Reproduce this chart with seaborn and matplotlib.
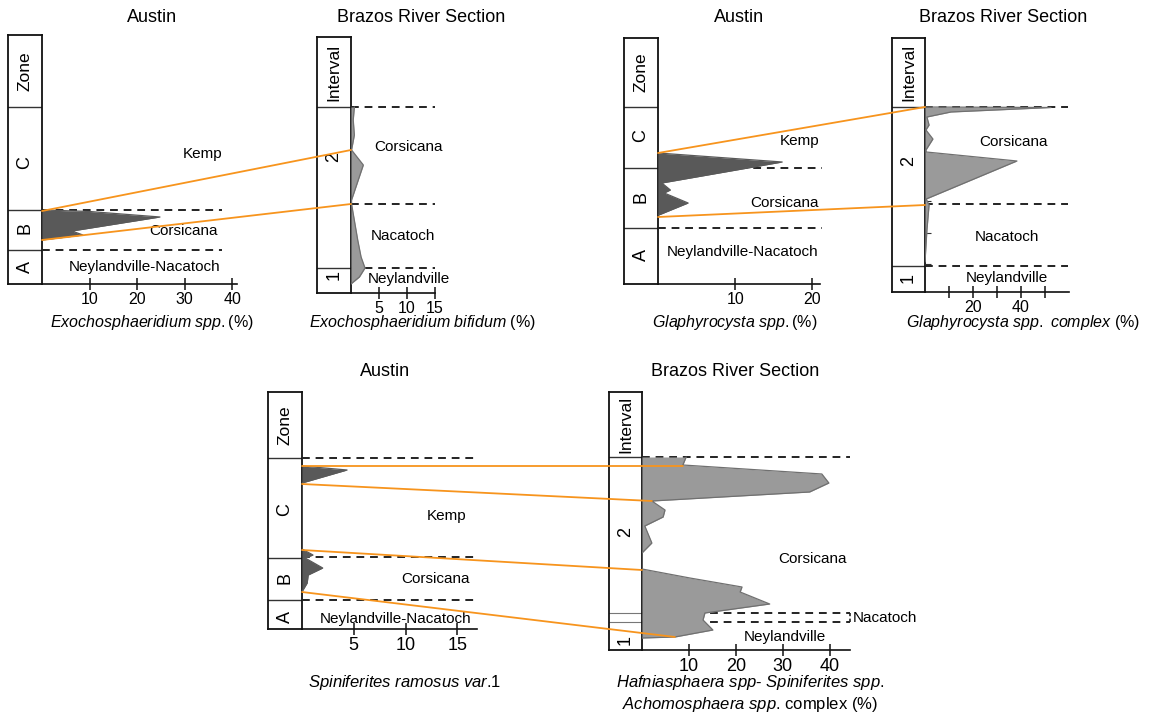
import numpy as np
import matplotlib
matplotlib.use('Agg')
import matplotlib.pyplot as plt
import seaborn as sns
from matplotlib.patches import ConnectionPatch

sns.set_style('white')
plt.rcParams['font.family'] = ['Liberation Sans', 'DejaVu Sans']
plt.rcParams['mathtext.fontset'] = 'custom'
plt.rcParams['mathtext.rm'] = 'Liberation Sans'
plt.rcParams['mathtext.it'] = 'Liberation Sans:italic'
plt.rcParams['text.color'] = 'black'
plt.rcParams['xtick.color'] = 'black'
plt.rcParams['ytick.color'] = 'black'
plt.rcParams['xtick.labelcolor'] = 'black'

# ---------------- data (levels = stratigraphic height, pct = abundance %) ----------
# Panel 1: Austin, Exochosphaeridium spp.
p1_zone_bounds = [7.4, 3.4]
p1_zone_labels = ['C', 'B', 'A']
p1_zone_label_lv = [12.1, 5.6, 1.7]
p1_level = [7.4, 7.25, 6.7, 5.3, 4.9, 4.4]
p1_pct = [0.5, 10.0, 24.8, 6.3, 8.6, 0.0]
p1_ticks = [10, 20, 30, 40]

# Panel 2: Brazos, Exochosphaeridium bifidum
p2_int_bounds = [2.5]
p2_int_labels = ['2', '1']
p2_int_label_lv = [13.6, 1.8]
p2_level = [18.6, 17.3, 15.8, 14.3, 12.8, 9.3, 8.9, 5.3, 3.6, 2.5, 1.6, 1.0, 0.9]
p2_pct = [0.6, 0.4, 0.6, 0.1, 2.2, 0.1, 0.1, 1.2, 1.8, 2.5, 1.5, 0.2, 0.0]
p2_ticks = [5, 10, 15]

# Panel 3: Austin, Glaphyrocysta spp.
p3_zone_bounds = [11.6, 5.6]
p3_zone_labels = ['C', 'B', 'A']
p3_zone_label_lv = [14.8, 8.7, 2.9]
p3_level = [13.1, 12.2, 10.1, 9.4, 9.1, 8.1, 6.9]
p3_pct = [0.0, 16.1, 0.5, 1.6, 0.8, 3.9, 0.1]
p3_ticks = [10, 20]

# Panel 4: Brazos, Glaphyrocysta spp. complex
p4_int_bounds = [2.6]
p4_int_labels = ['2', '1']
p4_int_label_lv = [13.1, 1.4]
p4_level = [18.5, 18.45, 18.0, 17.5, 16.7, 16.2, 15.3, 14.2, 14.0, 13.1, 9.3, 8.7, 6.2, 3.0]
p4_pct = [0.0, 52.5, 10.8, 0.8, 1.7, 0.4, 3.3, 0.4, 0.5, 38.3, 0.5, 1.7, 0.8, 0.0]
p4_ticks = [10, 20, 30, 40, 50]
p4_ticklabels = ['', '20', '', '40', '']
p4_yticks = [18.5, 15.4, 12.2, 9.1, 5.9, 2.8]

# Panel 5: Austin, Spiniferites ramosus var.1
p5_zone_bounds = [7.1, 2.9]
p5_zone_labels = ['C', 'B', 'A']
p5_zone_label_lv = [11.9, 5.1, 1.2]
p5_level = [16.3, 15.9, 14.6, 8.0, 7.4, 7.1, 6.1, 5.4, 4.6, 3.9, 3.7]
p5_pct = [0.0, 4.35, 0.0, 0.0, 1.06, 0.3, 2.0, 0.6, 0.5, 0.1, 0.0]
p5_ticks = [5, 10, 15]

# Panel 6: Brazos, Hafniasphaera-Spiniferites-Achomosphaera complex
p6_int_bounds = [3.7, 2.8]
p6_int_labels = ['2', '1']
p6_int_label_lv = [11.8, 1.0]
p6_level = [19.3, 18.5, 17.6, 16.7, 15.8, 14.9, 14.0, 13.3, 12.4, 10.7, 9.7, 8.1,
            7.2, 6.3, 5.8, 4.6, 3.7, 3.0, 2.0, 1.3, 1.2]
p6_pct = [9.4, 8.7, 38.3, 39.8, 35.7, 2.1, 4.9, 4.5, 0.6, 2.1, 0.0, 0.0,
          10.2, 21.3, 20.9, 27.2, 13.4, 13.0, 15.1, 7.0, 0.0]
p6_ticks = [10, 20, 30, 40]

# correlations (Austin (pct, level) -> Brazos (pct, level))
c12 = [((0, 7.3), (0, 14.3)), ((0, 4.4), (0, 8.9))]
c34 = [((0, 13.1), (0, 18.5)), ((0, 6.7), (0, 8.7))]
c56 = [((0, 16.3), (8.7, 18.4)), ((0, 14.5), (2.1, 14.9)),
       ((0, 7.9), (0, 8.0)), ((0, 3.7), (7.0, 1.3))]

# ---------------- figure ----------------
W, H = 1155, 715
fig = plt.figure(figsize=(W / 100, H / 100), dpi=100)

ORANGE = '#f7941d'
DARK = '#595959'
GREY = '#9a9a9a'
GREY_EDGE = '#707070'


def rect(x0, y0, x1, y1):
    return [x0 / W, 1 - y1 / H, (x1 - x0) / W, (y1 - y0) / H]


def panel(colx0, colx1, datax1, ytop, ybot, header, bounds, header_label,
          labels, label_lv, xmax, xticks, xticklabels, dashes, dash_end,
          level, pct, fill, edge, texts, tick_fs, bound_color='#333333', bound_lw=1.0):
    top = (ybot - ytop) / 10.0
    cax = fig.add_axes(rect(colx0, ytop, colx1, ybot))
    cax.set_xlim(0, 1)
    cax.set_ylim(0, top)
    cax.set_xticks([])
    cax.set_yticks([])
    for s in cax.spines.values():
        s.set_visible(True)
        s.set_color('#111111')
        s.set_linewidth(1.3)
    cax.axhline(header, color='#333333', lw=1.0)
    for b in bounds:
        cax.axhline(b, color=bound_color, lw=bound_lw)
    cax.text(0.5, (top + header) / 2, header_label, rotation=90, ha='center',
             va='center', fontsize=12.5)
    for lab, lv in zip(labels, label_lv):
        cax.text(0.5, lv, lab, rotation=90, ha='center', va='center', fontsize=13)

    ax = fig.add_axes(rect(colx1, ytop, datax1, ybot))
    ax.set_facecolor('none')
    ax.hlines(dashes, 0, dash_end, colors='#222222', linestyles=(0, (4, 3)),
              lw=1.4, clip_on=False, zorder=1)
    ax.fill_betweenx(level, 0, pct, color=fill, lw=0, zorder=2)
    sns.lineplot(x=pct, y=level, orient='y', estimator=None, sort=True,
                 color=edge, lw=0.9, ax=ax, zorder=3)
    ax.set_xlabel('')
    ax.set_ylabel('')
    ax.set_xlim(0, xmax)
    ax.set_ylim(0, top)
    for k in ['top', 'right', 'left']:
        ax.spines[k].set_visible(False)
    ax.spines['bottom'].set_visible(True)
    ax.spines['bottom'].set_color('#111111')
    ax.spines['bottom'].set_linewidth(1.2)
    ax.set_xticks(xticks)
    ax.set_xticklabels(xticklabels if xticklabels is not None else [str(t) for t in xticks])
    ax.tick_params(axis='x', bottom=True, direction='inout', length=9, width=1.1,
                   color='#111111', labelsize=tick_fs, pad=1, labelcolor='black')
    ax.set_yticks([])
    for s, x, lv, ha in texts:
        ax.text(x, lv, s, ha=ha, va='center', fontsize=11, zorder=4)
    return cax, ax


# Panel 1
c1, a1 = panel(8, 42, 237, 35, 284, 17.7, p1_zone_bounds, 'Zone', p1_zone_labels,
               p1_zone_label_lv, 41, p1_ticks, None, [7.4, 3.4], 37.9,
               p1_level, p1_pct, DARK, DARK,
               [('Kemp', 33.7, 13.0, 'center'), ('Corsicana', 29.7, 5.3, 'center'),
                ('Neylandville-Nacatoch', 21.5, 1.7, 'center')], 11.5)
# Panel 2
c2, a2 = panel(317, 351, 435, 37, 293, 18.6, p2_int_bounds, 'Interval', p2_int_labels,
               p2_int_label_lv, 15, p2_ticks, None, [18.6, 8.9, 2.5], 15,
               p2_level, p2_pct, GREY, GREY_EDGE,
               [('Corsicana', 10.2, 14.6, 'center'), ('Nacatoch', 9.3, 5.7, 'center'),
                ('Neylandville', 10.4, 1.4, 'center')], 11.5)
# Panel 3
c3, a3 = panel(624, 658, 820, 38, 284, 17.7, p3_zone_bounds, 'Zone', p3_zone_labels,
               p3_zone_label_lv, 21, p3_ticks, None, [11.6, 5.6], 21.3,
               p3_level, p3_pct, DARK, DARK,
               [('Kemp', 18.4, 14.3, 'center'), ('Corsicana', 16.4, 8.1, 'center'),
                ('Neylandville-Nacatoch', 10.9, 3.2, 'center')], 11.5)
# Panel 4
c4, a4 = panel(892, 925, 1069, 38, 292, 18.5, p4_int_bounds, 'Interval', p4_int_labels,
               p4_int_label_lv, 60, p4_ticks, p4_ticklabels, [18.5, 8.8, 2.6], 59.6,
               p4_level, p4_pct, GREY, GREY_EDGE,
               [('Corsicana', 36.7, 15.0, 'center'), ('Nacatoch', 34.2, 5.5, 'center'),
                ('Neylandville', 34.2, 1.4, 'center')], 11.5)
a4.set_yticks(p4_yticks)
a4.set_yticklabels([])
a4.tick_params(axis='y', left=True, direction='in', length=4, width=0.8, color='#333333')
# Panel 5
c5, a5 = panel(268, 302, 477, 392, 629, 17.1, p5_zone_bounds, 'Zone', p5_zone_labels,
               p5_zone_label_lv, 16.9, p5_ticks, None, [17.1, 7.2, 2.9], 16.9,
               p5_level, p5_pct, DARK, DARK,
               [('Kemp', 14.0, 11.3, 'center'), ('Corsicana', 12.9, 5.0, 'center'),
                ('Neylandville-Nacatoch', 9.0, 1.0, 'center')], 13)
# Panel 6
c6, a6 = panel(609, 642, 850, 392, 650, 19.3, p6_int_bounds, 'Interval', p6_int_labels,
               p6_int_label_lv, 44.3, p6_ticks, None, [19.3, 3.7, 2.8], 44.3,
               p6_level, p6_pct, GREY, GREY_EDGE,
               [('Corsicana', 36.4, 9.1, 'center'), ('Nacatoch', 44.8, 3.25, 'left'),
                ('Neylandville', 30.4, 1.3, 'center')], 13,
               bound_color='#777777', bound_lw=0.8)
a6.vlines(44.3, 2.8, 3.7, colors='#222222', lw=1.2, linestyles=(0, (2, 1.5)),
          clip_on=False, zorder=1)

# correlation lines
def connect(axA, axB, pairs):
    for pa, pb in pairs:
        con = ConnectionPatch(xyA=pa, coordsA='data', axesA=axA,
                              xyB=pb, coordsB='data', axesB=axB,
                              color=ORANGE, lw=1.3, zorder=6)
        fig.add_artist(con)

connect(a1, a2, c12)
connect(a3, a4, c34)
connect(a5, a6, c56)

# titles and axis labels
def ftext(x, y, s, fs, **kw):
    fig.text(x / W, 1 - y / H, s, ha='center', va='center', fontsize=fs, **kw)

ftext(152, 18, 'Austin', 13)
ftext(421, 18, 'Brazos River Section', 13)
ftext(739, 18, 'Austin', 13)
ftext(1003, 18, 'Brazos River Section', 13)
ftext(385, 371, 'Austin', 13)
ftext(735, 371, 'Brazos River Section', 13)

ftext(152, 323, r'$\mathit{Exochosphaeridium\ spp.}$(%)', 11.5)
ftext(422, 323, r'$\mathit{Exochosphaeridium\ bifidum}$ (%)', 11.5)
ftext(735, 323, r'$\mathit{Glaphyrocysta\ spp.}$(%)', 11.5)
ftext(1023, 323, r'$\mathit{Glaphyrocysta\ spp.\ complex}$ (%)', 11.5)
ftext(405, 683, r'$\mathit{Spiniferites\ ramosus\ var}$.1', 12)
ftext(750, 683, r'$\mathit{Hafniasphaera\ spp\text{-}\ Spiniferites\ spp.}$', 12)
ftext(750, 705, r'$\mathit{Achomosphaera\ spp}$. complex (%)', 12)

fig.savefig('out.png', dpi=100, facecolor='white')
